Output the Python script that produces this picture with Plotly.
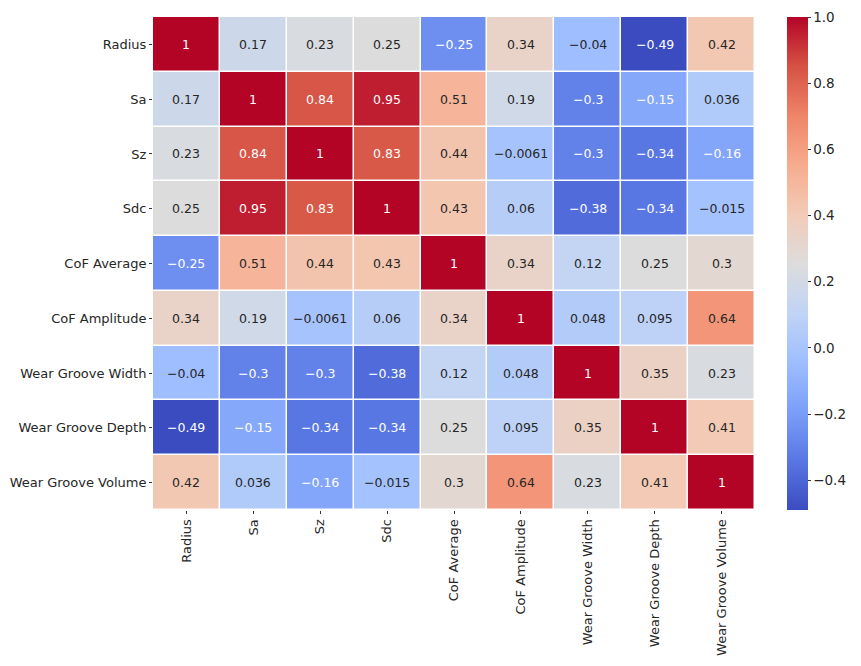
import plotly.graph_objects as go

labels = ["Radius", "Sa", "Sz", "Sdc", "CoF Average", "CoF Amplitude",
          "Wear Groove Width", "Wear Groove Depth", "Wear Groove Volume"]

row_radius = [1, 0.17, 0.23, 0.25, -0.25, 0.34, -0.04, -0.49, 0.42]
row_sa = [0.17, 1, 0.84, 0.95, 0.51, 0.19, -0.3, -0.15, 0.036]
row_sz = [0.23, 0.84, 1, 0.83, 0.44, -0.0061, -0.3, -0.34, -0.16]
row_sdc = [0.25, 0.95, 0.83, 1, 0.43, 0.06, -0.38, -0.34, -0.015]
row_cof_avg = [-0.25, 0.51, 0.44, 0.43, 1, 0.34, 0.12, 0.25, 0.3]
row_cof_amp = [0.34, 0.19, -0.0061, 0.06, 0.34, 1, 0.048, 0.095, 0.64]
row_wgw = [-0.04, -0.3, -0.3, -0.38, 0.12, 0.048, 1, 0.35, 0.23]
row_wgd = [-0.49, -0.15, -0.34, -0.34, 0.25, 0.095, 0.35, 1, 0.41]
row_wgv = [0.42, 0.036, -0.16, -0.015, 0.3, 0.64, 0.23, 0.41, 1]

z = [row_radius, row_sa, row_sz, row_sdc, row_cof_avg, row_cof_amp, row_wgw, row_wgd, row_wgv]

coolwarm = [
    [0.0, "#3b4cc0"], [0.1, "#5977e3"], [0.2, "#7b9ff9"], [0.3, "#9ebeff"],
    [0.4, "#c0d4f5"], [0.5, "#dddcdc"], [0.6, "#f2cbb7"], [0.7, "#f7ac8e"],
    [0.8, "#ee8468"], [0.9, "#d65244"], [1.0, "#b40426"],
]

def fmt(v):
    s = format(v, ".2g")
    return s.replace("-", "\u2212")

L, R, T, B = 145, 114, 9, 164
W, H = 861, 666
pw = W - L - R

fig = go.Figure()
fig.add_trace(go.Heatmap(
    z=z, x=labels, y=labels,
    colorscale=coolwarm, zmin=-0.49, zmax=1,
    xgap=1.5, ygap=1.5,
    colorbar=dict(
        x=(779 - L) / pw, xanchor="left", xpad=0, ypad=0,
        y=0.5, yanchor="middle", len=1.0, lenmode="fraction",
        thickness=21, outlinewidth=0,
        tickvals=[-0.4, -0.2, 0.0, 0.2, 0.4, 0.6, 0.8, 1.0],
        ticktext=["\u22120.4", "\u22120.2", "0.0", "0.2", "0.4", "0.6", "0.8", "1.0"],
        ticks="outside", ticklen=3, tickcolor="#333333",
        tickfont=dict(family="DejaVu Sans", size=13.5, color="#262626"),
    ),
    hoverinfo="skip",
))

annotations = []
for i, row in enumerate(z):
    for j, v in enumerate(row):
        color = "white" if (v >= 0.8 or v <= -0.15) else "#262626"
        annotations.append(dict(
            x=labels[j], y=labels[i], text=fmt(v), showarrow=False,
            font=dict(family="DejaVu Sans", size=12.5, color=color),
        ))

fig.update_layout(
    width=W, height=H,
    margin=dict(l=L, r=R, t=T, b=B, autoexpand=False),
    paper_bgcolor="white", plot_bgcolor="white",
    annotations=annotations,
    font=dict(family="DejaVu Sans", color="#262626"),
)
fig.update_xaxes(
    tickangle=-90, ticks="outside", ticklen=3, tickcolor="#333333",
    tickfont=dict(family="DejaVu Sans", size=13, color="#262626"),
    showgrid=False, zeroline=False, showline=False,
)
fig.update_yaxes(
    autorange="reversed", ticks="outside", ticklen=3, tickcolor="#333333",
    tickfont=dict(family="DejaVu Sans", size=13, color="#262626"),
    showgrid=False, zeroline=False, showline=False,
)

fig.write_html("out.html")
